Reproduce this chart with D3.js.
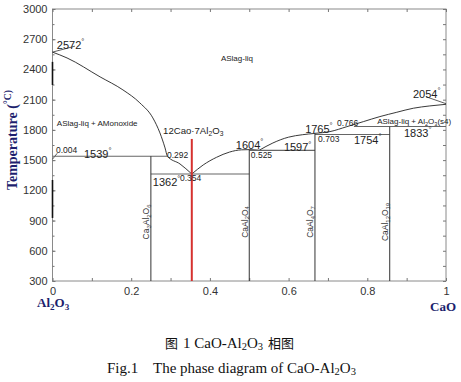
<!DOCTYPE html>
<html lang="en">
<head>
  <meta charset="UTF-8">
  <title>CaO-Al2O3 phase diagram</title>
  <script src="https://d3js.org/d3.v7.min.js"></script>
  <style>
    body { margin: 0; background: #fff; }
    svg { display: block; }
  </style>
</head>
<body>
  <div id="chart"></div>
  <script>
    // tick values
    const yTicks = [300, 600, 900, 1200, 1500, 1800, 2100, 2400, 2700, 3000];
    const xTicks = [0, 0.2, 0.4, 0.6, 0.8, 1];

    // liquidus curves [x, T]
    const liqLeft = [[0, 2572], [0.037, 2514], [0.121, 2326], [0.179, 2197], [0.222, 2068],
      [0.255, 1919], [0.273, 1770], [0.286, 1621], [0.292, 1539], [0.324, 1462], [0.354, 1362]];
    const liqMid = [[0.354, 1362], [0.383, 1452], [0.417, 1528], [0.45, 1580], [0.48, 1602],
      [0.5, 1604], [0.525, 1597]];
    const liqCA2 = [[0.525, 1597], [0.56, 1670], [0.6, 1728], [0.635, 1752], [0.667, 1765]];
    const liqRight = [[0.667, 1766], [0.705, 1783], [0.748, 1832], [0.79, 1882], [0.832, 1932],
      [0.875, 1975], [0.917, 2015], [0.959, 2038], [1, 2054]];

    // short leader / boundary pieces
    const leaders = [
      [[0, 2572], [0.057, 2631]],
      [[0.95, 2128], [1, 2060]],
      [[0, 1509], [0.012, 1568]]
    ];
    // darker pieces drawn on the x = 0 edge
    const edgeSegs = [[2475, 2246], [1303, 926]];

    // invariant (horizontal) lines: x0, x1, T
    const invariants = [[0, 0.292, 1539], [0.25, 0.5, 1362], [0.5, 0.667, 1597],
      [0.667, 0.857, 1754], [0.766, 1, 1833]];
    // compounds: x, top T, name
    const compounds = [[0.25, 1539, "Ca_3Al_2O_6"], [0.5, 1604, "CaAl_2O_4"],
      [0.667, 1765, "CaAl_4O_7"], [0.857, 1833, "CaAl_12O_19"]];
    const c12a7 = [0.354, 1710];

    // annotations: text, x, T, kind
    const notes = [
      ["2572^°", 0.011, 2643, "big"],
      ["ASlag-liq", 0.428, 2514, "phase"],
      ["ASlag-liq + AMonoxide", 0.011, 1869, "phase"],
      ["12Cao·7Al_2O_3", 0.281, 1790, "mid"],
      ["0.004", 0.009, 1601, "small"],
      ["1539^°", 0.080, 1561, "big"],
      ["0.292", 0.291, 1551, "small"],
      ["1362^°", 0.255, 1286, "big"],
      ["0.354", 0.324, 1326, "small"],
      ["1604^°", 0.466, 1645, "big"],
      ["0.525", 0.504, 1550, "small"],
      ["1597^°", 0.588, 1624, "big"],
      ["1765^°", 0.642, 1805, "big"],
      ["0.766", 0.723, 1866, "small"],
      ["0.703", 0.675, 1712, "small"],
      ["1754^°", 0.766, 1700, "big"],
      ["ASlag-liq + Al_2O_3(s4)", 0.825, 1882, "phase"],
      ["1833^°", 0.893, 1767, "big"],
      ["2054^°", 0.916, 2154, "big"]
    ];
    const compoundLabelT = 886;

    const width = 461, height = 382;
    const svg = d3.select("#chart").append("svg")
      .attr("width", width).attr("height", height);

    const x = d3.scaleLinear().domain([0, 1]).range([52.5, 446]);
    const y = d3.scaleLinear().domain([300, 3000]).range([281, 9]);

    // text with _sub and ^sup pieces
    function rich(sel, str, size, subShift = 0.22) {
      const parts = str.split(/(_\d+|\^[^_^]+)/).filter(s => s.length);
      let shift = 0;
      parts.forEach(p => {
        const t = sel.append("tspan");
        if (p[0] === "_") {
          const d = size * subShift;
          t.text(p.slice(1)).attr("font-size", size * 0.7).attr("dy", d - shift);
          shift = d;
        } else if (p[0] === "^") {
          const d = -size * 0.45;
          t.text(p.slice(1)).attr("font-size", size * 0.7).attr("dy", d - shift);
          shift = d;
        } else {
          t.text(p).attr("dy", -shift);
          shift = 0;
        }
      });
    }

    // frame + ticks
    const g = svg.append("g");
    g.append("rect")
      .attr("x", x(0)).attr("y", y(3000))
      .attr("width", x(1) - x(0)).attr("height", y(300) - y(3000))
      .attr("fill", "none").attr("stroke", "#8a8a8a");

    const minorX = d3.range(0, 1.0001, 0.1);
    const minorY = d3.range(300, 3001, 150);

    function styleAxis(a) {
      a.select(".domain").remove();
      a.selectAll(".tick line").attr("stroke", "#777");
      a.selectAll(".tick text").attr("fill", "#333")
        .attr("font-family", "Arial, 'Liberation Sans', sans-serif").attr("font-size", 11);
    }

    g.append("g").attr("transform", `translate(${x(0)},0)`)
      .call(d3.axisLeft(y).tickValues(yTicks).tickSize(-3).tickPadding(5).tickFormat(d3.format("d")))
      .call(styleAxis);
    g.append("g").attr("transform", `translate(${x(0)},0)`)
      .call(d3.axisLeft(y).tickValues(minorY).tickSize(-2).tickFormat(""))
      .call(styleAxis);
    g.append("g").attr("transform", `translate(0,${y(300)})`)
      .call(d3.axisBottom(x).tickValues(xTicks).tickSize(0).tickPadding(6).tickFormat(d3.format("~g")))
      .call(styleAxis);
    g.append("g").attr("transform", `translate(0,${y(300)})`)
      .call(d3.axisBottom(x).tickValues(minorX).tickSize(-3).tickFormat(""))
      .call(styleAxis);
    g.append("g").attr("transform", `translate(0,${y(3000)})`)
      .call(d3.axisTop(x).tickValues(minorX).tickSize(-3).tickFormat(""))
      .call(styleAxis);
    g.append("g").attr("transform", `translate(${x(1)},0)`)
      .call(d3.axisRight(y).tickValues(minorY).tickSize(-3).tickFormat(""))
      .call(styleAxis);

    // dark pieces on the left edge
    g.selectAll(".edge").data(edgeSegs).enter().append("line")
      .attr("x1", x(0)).attr("x2", x(0))
      .attr("y1", d => y(d[0])).attr("y2", d => y(d[1]))
      .attr("stroke", "#111").attr("stroke-width", 1.6);

    const plot = svg.append("g");
    const line = d3.line().x(d => x(d[0])).y(d => y(d[1])).curve(d3.curveMonotoneX);

    [liqLeft, liqMid, liqCA2, liqRight].forEach(c => {
      plot.append("path").attr("d", line(c))
        .attr("fill", "none").attr("stroke", "#222").attr("stroke-width", 0.9);
    });
    leaders.forEach(c => {
      plot.append("path").attr("d", d3.line().x(d => x(d[0])).y(d => y(d[1]))(c))
        .attr("fill", "none").attr("stroke", "#333").attr("stroke-width", 0.8);
    });

    plot.selectAll(".inv").data(invariants).enter().append("line")
      .attr("x1", d => x(d[0])).attr("x2", d => x(d[1]))
      .attr("y1", d => y(d[2])).attr("y2", d => y(d[2]))
      .attr("stroke", "#666").attr("stroke-width", 1.1);

    plot.selectAll(".cmp").data(compounds).enter().append("line")
      .attr("x1", d => x(d[0])).attr("x2", d => x(d[0]))
      .attr("y1", d => y(d[1])).attr("y2", y(300))
      .attr("stroke", "#333").attr("stroke-width", 1);

    plot.append("line")
      .attr("x1", x(c12a7[0])).attr("x2", x(c12a7[0]))
      .attr("y1", y(c12a7[1])).attr("y2", y(300))
      .attr("stroke", "#d6312f").attr("stroke-width", 2);

    // compound names, vertical
    compounds.forEach(d => {
      const t = plot.append("text")
        .attr("transform", `translate(${x(d[0]) - 1.5},${y(compoundLabelT)}) rotate(-90)`)
        .attr("text-anchor", "middle")
        .attr("font-family", "Arial, 'Liberation Sans', sans-serif")
        .attr("font-size", 8.5).attr("fill", "#333");
      rich(t, d[2], 8.5, 0.18);
    });

    const sizes = { big: 11, phase: 8, mid: 9.6, small: 8.5 };
    notes.forEach(n => {
      const s = sizes[n[3]];
      const t = plot.append("text")
        .attr("x", x(n[1])).attr("y", y(n[2]) + s * 0.35)
        .attr("font-family", "Arial, 'Liberation Sans', sans-serif")
        .attr("font-size", s).attr("fill", "#222");
      rich(t, n[0], s);
    });

    // axis titles
    const navy = "#1d1f6e";
    const yt = svg.append("text")
      .attr("transform", "translate(17,140) rotate(-90)")
      .attr("text-anchor", "middle")
      .attr("font-family", "'Liberation Serif', 'Times New Roman', serif")
      .attr("font-weight", "bold").attr("font-size", 14).attr("fill", navy);
    rich(yt, "Temperature (^°C)", 14);

    const xa = svg.append("text").attr("x", 37).attr("y", 307)
      .attr("font-family", "'Liberation Serif', 'Times New Roman', serif")
      .attr("font-weight", "bold").attr("font-size", 13).attr("fill", navy);
    rich(xa, "Al_2O_3", 13);
    svg.append("text").attr("x", 430).attr("y", 311)
      .attr("font-family", "'Liberation Serif', 'Times New Roman', serif")
      .attr("font-weight", "bold").attr("font-size", 13).attr("fill", navy)
      .text("CaO");

    // captions
    const serif = "'Liberation Serif', 'Times New Roman', serif";
    const cjk = "'Noto Sans CJK SC', sans-serif";
    svg.append("text").attr("x", 165).attr("y", 348)
      .attr("font-family", cjk).attr("font-size", 13).attr("fill", "#111").text("图");
    const c1 = svg.append("text").attr("x", 183).attr("y", 348)
      .attr("font-family", serif).attr("font-size", 15).attr("fill", "#111");
    rich(c1, "1 CaO-Al_2O_3", 15, 0.15);
    svg.append("text").attr("x", 268).attr("y", 348)
      .attr("font-family", cjk).attr("font-size", 13).attr("fill", "#111").text("相图");

    svg.append("text").attr("x", 107).attr("y", 373)
      .attr("font-family", serif).attr("font-size", 15).attr("fill", "#111").text("Fig.1");
    const c2 = svg.append("text").attr("x", 153).attr("y", 373)
      .attr("font-family", serif).attr("font-size", 15).attr("fill", "#111");
    rich(c2, "The phase diagram of CaO-Al_2O_3", 15, 0.15);
  </script>
</body>
</html>
